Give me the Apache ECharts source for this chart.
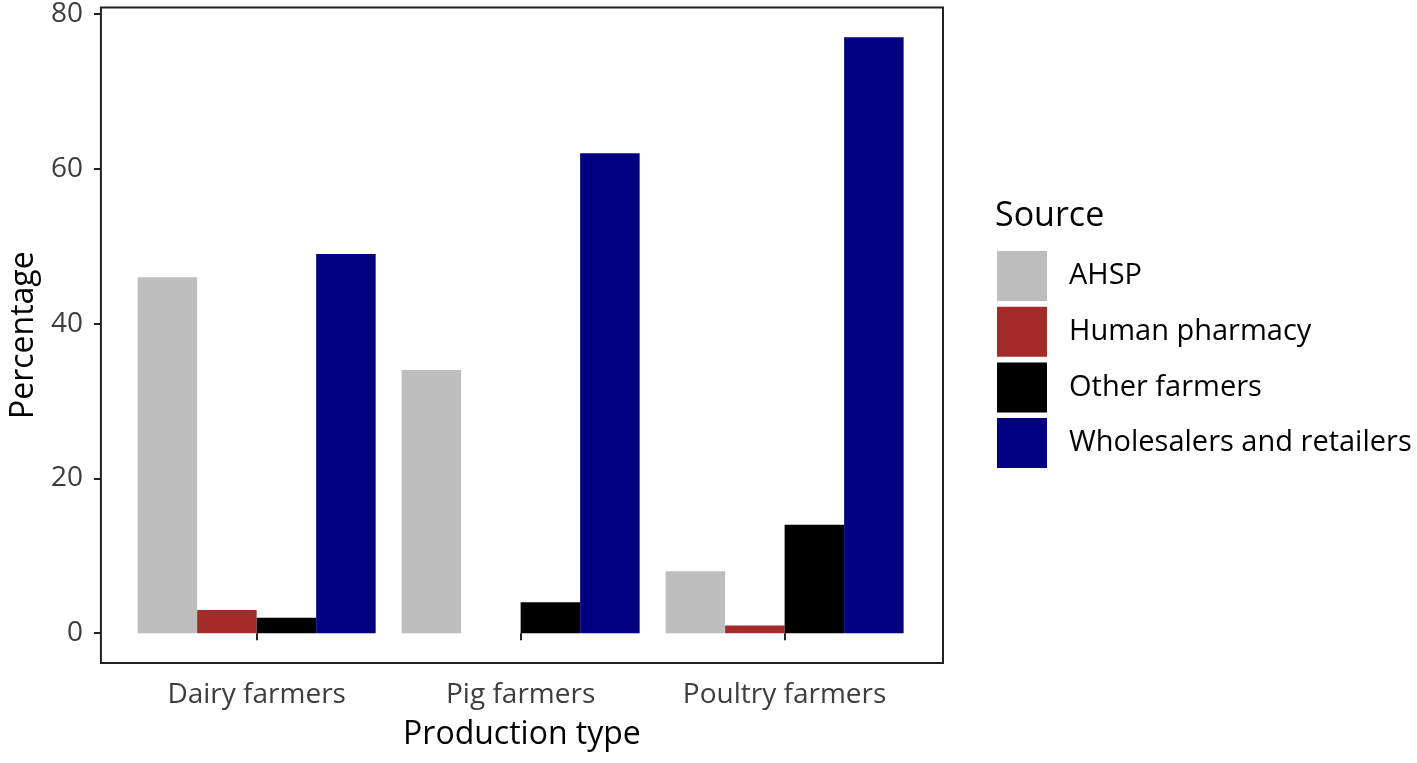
<!DOCTYPE html>
<html>
<head>
<meta charset="utf-8">
<script src="https://cdn.jsdelivr.net/npm/echarts@6/dist/echarts.min.js"></script>
<style>
  html, body { margin: 0; padding: 0; background: #fff; }
  #main { width: 1417px; height: 763px; }
</style>
</head>
<body>
<div id="main"></div>
<script>
var categories = ["Dairy farmers", "Pig farmers", "Poultry farmers"];
var sources = ["AHSP", "Human pharmacy", "Other farmers", "Wholesalers and retailers"];
var ahsp = [46, 34, 8];
var humanPharmacy = [3, 0, 1];
var otherFarmers = [2, 4, 14];
var wholesalers = [49, 62, 77];
var yTicks = [0, 20, 40, 60, 80];
var colors = ["#bebebe", "#a52a2a", "#000000", "#000080"];

var font = "Open Sans";

function toPoints(values) {
    return values.map(function (v, i) {
        return [i + 1, v];
    });
}

var seriesValues = [ahsp, humanPharmacy, otherFarmers, wholesalers];

var option = {
    backgroundColor: "#fff",
    animation: false,
    title: {
        text: "Source",
        left: 995,
        top: 199,
        padding: 0,
        textStyle: { fontFamily: font, fontSize: 34, fontWeight: "normal", color: "#000" }
    },
    legend: {
        orient: "vertical",
        left: 997,
        top: 251,
        padding: 0,
        itemWidth: 50,
        itemHeight: 50,
        itemGap: 5.7,
        icon: "rect",
        data: sources,
        textStyle: {
            fontFamily: font,
            fontSize: 29,
            color: "#000",
            padding: [8, 0, 0, 17]
        }
    },
    grid: {
        left: 99,
        top: 7,
        width: 844,
        height: 656,
        show: true,
        borderColor: "#222",
        borderWidth: 2,
        backgroundColor: "transparent"
    },
    xAxis: {
        type: "value",
        min: 0.41,
        max: 3.6,
        name: "Production type",
        nameLocation: "middle",
        nameGap: 56,
        nameTextStyle: { fontFamily: font, fontSize: 32, color: "#000" },
        axisLine: { show: false },
        splitLine: { show: false },
        axisTick: {
            show: true,
            length: 7,
            customValues: [1, 2, 3],
            lineStyle: { color: "#222", width: 2 }
        },
        axisLabel: {
            customValues: [1, 2, 3],
            margin: 18,
            fontFamily: font,
            fontSize: 28,
            color: "#3d3d3d",
            formatter: function (v) {
                return categories[Math.round(v) - 1];
            }
        }
    },
    yAxis: {
        type: "value",
        min: -3.85,
        max: 80.85,
        name: "Percentage",
        nameLocation: "middle",
        nameGap: 60,
        nameTextStyle: { fontFamily: font, fontSize: 32, color: "#000" },
        axisLine: { show: false },
        splitLine: { show: false },
        axisTick: {
            show: true,
            length: 7,
            customValues: yTicks,
            lineStyle: { color: "#222", width: 2 }
        },
        axisLabel: {
            customValues: yTicks,
            margin: 18,
            fontFamily: font,
            fontSize: 28,
            color: "#3d3d3d"
        }
    },
    series: sources.map(function (name, k) {
        return {
            name: name,
            type: "bar",
            data: toPoints(seriesValues[k]),
            barWidth: 59.5,
            barGap: "0%",
            itemStyle: { color: colors[k] }
        };
    })
};

var chart = echarts.init(document.getElementById("main"));
chart.setOption(option);
</script>
</body>
</html>
